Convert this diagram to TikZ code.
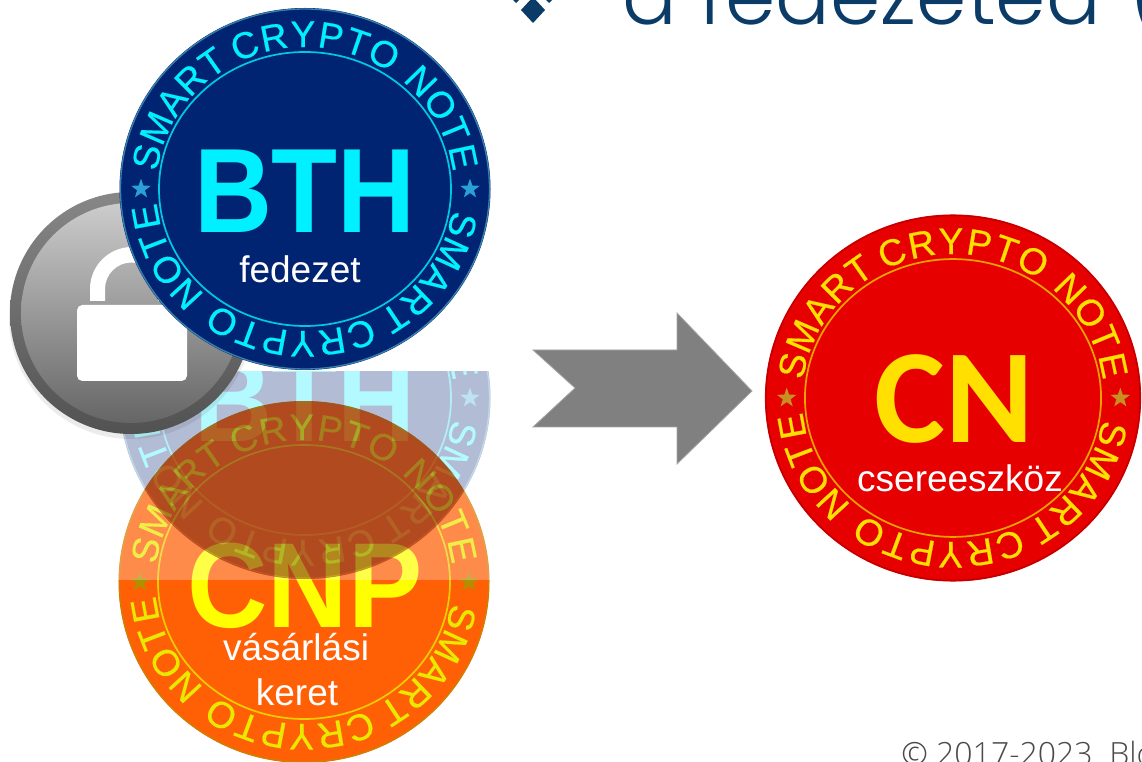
\documentclass[tikz,border=0pt]{standalone}
\usepackage{fontspec}
\usetikzlibrary{shapes.geometric}
\setmainfont{Liberation Sans}
\newfontfamily\titlefont{Poppins Light}
\newfontfamily\copyfont{Open Sans Light}
\newfontfamily\cnfont{Carlito}
\newfontfamily\coinfont[FakeBold=0.5]{Liberation Sans}
\newcommand{\setpx}[1]{\fontsize{\dimexpr#1pt*3/4\relax}{\dimexpr#1pt*9/10\relax}\selectfont}
\definecolor{navyC}{HTML}{012472}
\definecolor{cyanC}{HTML}{00F0FF}
\definecolor{starB}{HTML}{2A9FD8}
\definecolor{orgC}{HTML}{FF5F05}
\definecolor{orgE}{HTML}{D08000}
\definecolor{yelC}{HTML}{FFFF00}
\definecolor{yelD}{HTML}{E8E800}
\definecolor{starO}{HTML}{B09000}
\definecolor{redC}{HTML}{E60000}
\definecolor{redE}{HTML}{C00000}
\definecolor{goldC}{HTML}{FFE000}
\definecolor{goldR}{HTML}{F0A000}
\definecolor{starR}{HTML}{C89020}
\definecolor{titleC}{HTML}{0B3C68}
\definecolor{copyC}{HTML}{4A4A4A}
\definecolor{arrowC}{HTML}{808080}
\tikzset{
  coinletter/.style={inner sep=0pt,anchor=base,font=\coinfont\setpx{37}},
  coinstar/.style={star,star points=5,star point ratio=2.5,inner sep=0pt,minimum size=15.5pt},
  coinlabel/.style={text=white,inner sep=0pt,anchor=base,font=\setpx{37}},
  biglabel/.style={inner sep=0pt,anchor=base},
}
% #1 fill  #2 edge  #3 letters  #4 ring  #5 star  #6 scale
\newcommand{\coinbody}[6]{%
  \fill[#1] (0,0) ellipse [x radius=185.5*#6, y radius=181*#6];
  \draw[#2,line width=1pt] (0,0) ellipse [x radius=184.5*#6, y radius=180*#6];
  \draw[#4,line width=1.3pt] (0,0) ellipse [x radius=146*#6, y radius=137*#6];
  \foreach \ch/\an in {S/168,M/156.75,A/145.5,R/135.1,T/125.1,C/111.9,R/101.1,Y/90.7,P/80.7,T/71.1,O/60.7,N/44.2,O/33,T/22.5,E/12}{
    \node[coinletter,text=#3,rotate=\an-90] at ({149*#6*cos(\an)},{142*#6*sin(\an)}) {\ch};
    \node[coinletter,text=#3,rotate=\an-271.5] at ({149*#6*cos(\an-181.5)},{142*#6*sin(\an-181.5)}) {\ch};
  }
  \node[coinstar,fill=#5] at (-164*#6,0) {};
  \node[coinstar,fill=#5] at (165*#6,0) {};
}
\newcommand{\bthcoin}{%
  \coinbody{navyC}{cyan!50!navyC}{cyanC}{cyanC!80!navyC}{starB}{1}
  \node[biglabel,text=cyanC,xscale=.9] at (0,-44) {\bfseries\setpx{120}BTH};
}
\newcommand{\cnpcoin}{%
  \coinbody{orgC}{orgE}{yelD}{yelD!80!orgC}{starO}{1}
  \node[biglabel,text=yelC,xscale=.92] at (1,-45) {\bfseries\setpx{121}CNP};
}
\begin{document}
\begin{tikzpicture}[x=.75pt,y=.75pt]
\clip (0,0) rectangle (1142,761);
\fill[white] (0,0) rectangle (1142,761);

% title, cut by the top edge
\node[inner sep=0pt,anchor=base west,text=titleC] (title) at (622,736.5) {\titlefont\setpx{81}a fedezeted};
\node[inner sep=0pt,anchor=base west,text=titleC] (paren) at (1129,736.5) {\titlefont\setpx{81}(};
\fill[titleC] (533,764) -- (545,751) -- (533,738) -- (521,751) -- cycle;
\fill[titleC] (516,770) -- (522,764) -- (516,758) -- (510,764) -- cycle;
\fill[titleC] (549,770) -- (555,764) -- (549,758) -- (543,764) -- cycle;

% pale copy of the BTH coin
\begin{scope}
  \clip (100,389) rectangle (500,180);
  \begin{scope}[shift={(305,363)},transparency group,opacity=.3]
    \bthcoin
  \end{scope}
\end{scope}

% CNP coin: upper part translucent, lower part solid
\begin{scope}
  \clip (100,181) rectangle (500,400);
  \begin{scope}[shift={(304,179)},transparency group,opacity=.72,blend mode=multiply]
    \cnpcoin
  \end{scope}
  \begin{scope}
    \clip (305,363) ellipse [x radius=185.5, y radius=181];
    \clip (304,179) ellipse [x radius=185.5, y radius=181];
    \fill[blend mode=multiply,fill={rgb,255:red,255;green,185;blue,130}] (100,181) rectangle (500,400);
  \end{scope}
\end{scope}
\begin{scope}
  \clip (100,181) rectangle (500,-20);
  \begin{scope}[shift={(304,179)}]
    \cnpcoin
  \end{scope}
\end{scope}
\node[coinlabel] (vas) at (296,101) {vásárlási};
\node[coinlabel] (ker) at (297,56) {keret};

% lock disc
\fill[black,opacity=.08] (131,444) circle [radius=122];
\shade[top color=black!47,bottom color=black!68] (131,448) circle [radius=121];
\shade[top color=black!20,bottom color=black!60] (131,448) circle [radius=110];
\fill[white,rounded corners=4pt] (77,456) rectangle (187,380);
\fill[white] (90,460) -- (90,472) arc [start angle=180,end angle=0,radius=42] -- (174,460) -- (158,460) -- (158,472) arc [start angle=0,end angle=180,radius=26.5] -- (105,460) -- cycle;

% BTH coin
\begin{scope}[shift={(305,572)}]
  \bthcoin
\end{scope}
\node[coinlabel] (fed) at (300,478) {fedezet};

% arrow
\fill[arrowC,draw=black!35,line width=.6pt] (533,411) -- (677,411) -- (677,448) -- (752,370) -- (677,297) -- (677,334) -- (533,334) -- (575,373) -- cycle;

% CN coin
\begin{scope}[shift={(953,363)}]
  \coinbody{redC}{redE}{goldC}{goldR}{starR}{1.014}
  \node[biglabel,text=goldC] (cn) at (1,-45) {\cnfont\bfseries\setpx{134}CN};
\end{scope}
\node[coinlabel] (cse) at (960,269) {csereeszköz};

% footer, cut by the lower edge
\node[inner sep=0pt,anchor=base west,text=copyC] (copy) at (901,-4) {\copyfont\setpx{32}© 2017-2023\ \ Blo};
\end{tikzpicture}
\end{document}
